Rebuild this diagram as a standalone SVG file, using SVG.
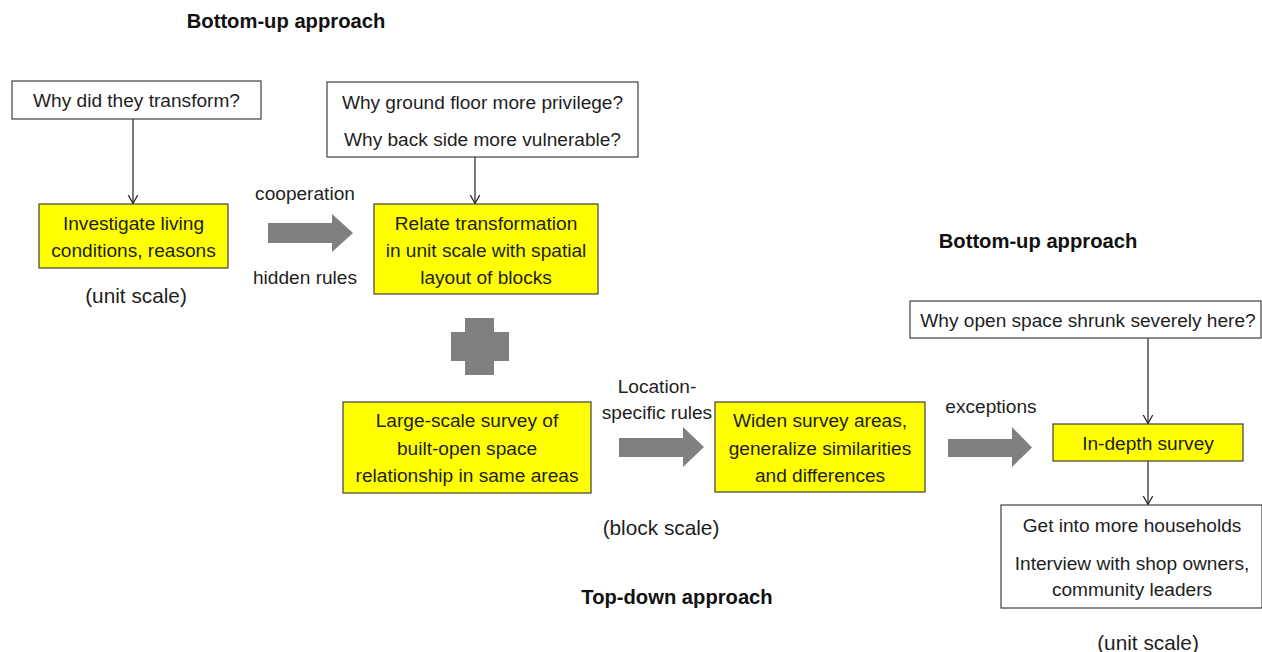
<svg xmlns="http://www.w3.org/2000/svg" width="1262" height="652" viewBox="0 0 1262 652">
<defs>
<style>
text{font-family:"Liberation Sans",Arial,sans-serif;font-size:19.1px;fill:#1e1e1e;text-anchor:middle;dominant-baseline:central}
.h{font-weight:bold;font-size:20.2px;fill:#111}
.s{font-size:20.8px}
.w{fill:#fff;stroke:#404040;stroke-width:1.2}
.y{fill:#ffff00;stroke:#404040;stroke-width:1.2}
.c{stroke:#222;stroke-width:1.2;fill:none}
.g{fill:#808080}
</style>
<marker id="ah" markerUnits="userSpaceOnUse" markerWidth="12" markerHeight="12" refX="9" refY="5" orient="auto">
<path d="M0,0 L9,5 L0,10" fill="none" stroke="#222" stroke-width="1.2"/>
</marker>
</defs>
<rect width="1262" height="652" fill="#fff"/>

<g id="headings">
<text class="h" x="286" y="21">Bottom-up approach</text>
<text class="h" x="1038" y="241">Bottom-up approach</text>
<text class="h" x="677" y="597">Top-down approach</text>
</g>

<g id="connectors">
<line class="c" x1="133" y1="119" x2="133" y2="203.5" marker-end="url(#ah)"/>
<line class="c" x1="475" y1="157" x2="475" y2="203.5" marker-end="url(#ah)"/>
<line class="c" x1="1148" y1="338" x2="1148" y2="423.5" marker-end="url(#ah)"/>
<line class="c" x1="1148" y1="461" x2="1148" y2="504.5" marker-end="url(#ah)"/>
<path class="g" d="M268,223 H332 V214 L353,233 L332,252 V243 H268 Z"/>
<path class="g" d="M619,438 H683 V427 L704,447 L683,467 V457 H619 Z"/>
<path class="g" d="M948,439 H1012 V427 L1032,447.5 L1012,467 V457 H948 Z"/>
<path class="g" d="M465,318 H494 V332 H509 V361 H494 V375 H465 V361 H451 V332 H465 Z"/>
</g>

<g id="labels">
<text x="305" y="193">cooperation</text>
<text x="305" y="277">hidden rules</text>
<text x="657" y="386">Location-</text>
<text x="657" y="412">specific rules</text>
<text x="991" y="406">exceptions</text>
<text class="s" x="136" y="295">(unit scale)</text>
<text class="s" x="661" y="527">(block scale)</text>
<text class="s" x="1148" y="642">(unit scale)</text>
</g>

<g id="q1">
<rect class="w" x="12" y="81" width="249" height="38"/>
<text x="136.5" y="100">Why did they transform?</text>
</g>

<g id="n1">
<rect class="y" x="39" y="204" width="189" height="64"/>
<text x="133.5" y="223">Investigate living</text>
<text x="133.5" y="250">conditions, reasons</text>
</g>

<g id="q2">
<rect class="w" x="327" y="82" width="311" height="75"/>
<text x="482.5" y="102">Why ground floor more privilege?</text>
<text x="482.5" y="139">Why back side more vulnerable?</text>
</g>

<g id="n2">
<rect class="y" x="374" y="204" width="224" height="90"/>
<text x="486" y="223">Relate transformation</text>
<text x="486" y="250">in unit scale with spatial</text>
<text x="486" y="277">layout of blocks</text>
</g>

<g id="n3">
<rect class="y" x="343" y="402" width="248" height="91"/>
<text x="467" y="420">Large-scale survey of</text>
<text x="467" y="448">built-open space</text>
<text x="467" y="475">relationship in same areas</text>
</g>

<g id="n4">
<rect class="y" x="715" y="402" width="210" height="90"/>
<text x="820" y="420">Widen survey areas,</text>
<text x="820" y="448">generalize similarities</text>
<text x="820" y="475">and differences</text>
</g>

<g id="q3">
<rect class="w" x="910" y="301" width="351" height="37"/>
<text x="1088" y="320">Why open space shrunk severely here?</text>
</g>

<g id="n5">
<rect class="y" x="1053" y="424" width="190" height="37"/>
<text x="1148" y="443">In-depth survey</text>
</g>

<g id="n6">
<rect class="w" x="1001" y="505" width="261" height="103"/>
<text x="1132" y="525">Get into more households</text>
<text x="1132" y="563">Interview with shop owners,</text>
<text x="1132" y="589">community leaders</text>
</g>
</svg>
